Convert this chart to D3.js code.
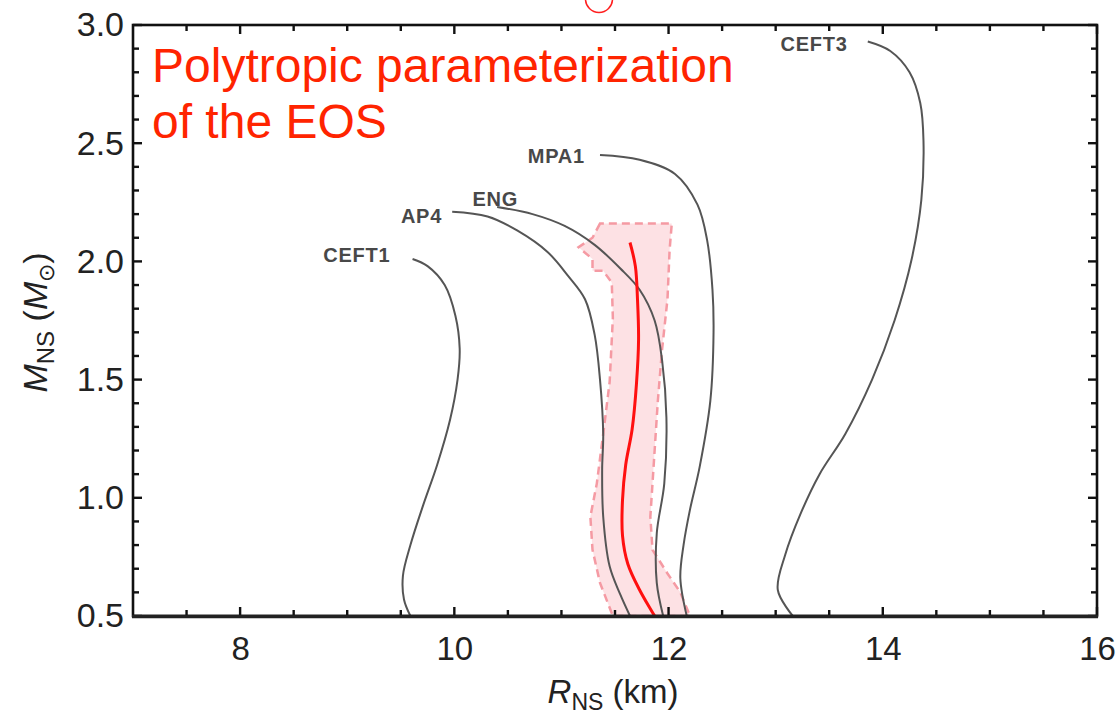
<!DOCTYPE html>
<html>
<head>
<meta charset="utf-8">
<script src="https://cdn.jsdelivr.net/npm/d3@7"></script>
<style>
  html, body { margin: 0; padding: 0; background: #fff; }
  svg { display: block; font-family: "Liberation Sans", Arial, sans-serif; }
</style>
</head>
<body>
<div id="viz"></div>
<script>
const width = 1116;
const height = 723;

// axis ranges and tick values
const xDomain = [7, 16];
const yDomain = [0.5, 3.0];
const xMajor = [8, 10, 12, 14, 16];
const xMinor = [7.5, 8.5, 9, 9.5, 10.5, 11, 11.5, 12.5, 13, 13.5, 14.5, 15, 15.5];
const yMajor = [0.5, 1.0, 1.5, 2.0, 2.5, 3.0];
const yMinor = [0.6, 0.7, 0.8, 0.9, 1.1, 1.2, 1.3, 1.4, 1.6, 1.7, 1.8, 1.9, 2.1, 2.2, 2.3, 2.4, 2.6, 2.7, 2.8, 2.9];

// mass-radius curves, [R km, M Msun]
const ceft1 = [[9.61,2.01],[9.75,1.98],[9.91,1.90],[10.01,1.77],[10.05,1.63],[10.03,1.50],[9.96,1.33],[9.84,1.14],[9.71,0.97],[9.59,0.80],[9.52,0.67],[9.53,0.57],[9.59,0.50]];
const ap4 = [[9.98,2.21],[10.31,2.19],[10.59,2.13],[10.87,2.04],[11.06,1.94],[11.22,1.84],[11.31,1.69],[11.36,1.50],[11.39,1.27],[11.38,1.12],[11.39,0.92],[11.45,0.71],[11.55,0.59],[11.64,0.50]];
const eng = [[10.40,2.23],[10.73,2.20],[11.03,2.15],[11.31,2.07],[11.55,1.97],[11.73,1.88],[11.87,1.75],[11.94,1.58],[11.98,1.34],[11.96,1.06],[11.89,0.85],[11.89,0.64],[11.95,0.50]];
const mpa1 = [[11.36,2.45],[11.73,2.43],[12.06,2.37],[12.27,2.24],[12.36,2.09],[12.41,1.88],[12.42,1.70],[12.39,1.41],[12.29,1.13],[12.20,0.95],[12.14,0.80],[12.11,0.66],[12.17,0.50]];
const ceft3 = [[13.86,2.93],[14.07,2.89],[14.25,2.80],[14.35,2.67],[14.38,2.51],[14.36,2.26],[14.27,2.01],[14.11,1.75],[13.90,1.50],[13.65,1.27],[13.41,1.10],[13.23,0.93],[13.09,0.76],[13.02,0.61],[13.16,0.50]];

const eosNames = ["CEFT1", "AP4", "ENG", "MPA1", "CEFT3"];
const eosCurves = [ceft1, ap4, eng, mpa1, ceft3];

// polytropic result: median and band edges
const polyMedian = [[11.64,2.08],[11.69,1.98],[11.71,1.84],[11.72,1.67],[11.70,1.48],[11.66,1.29],[11.60,1.14],[11.57,0.99],[11.57,0.84],[11.62,0.72],[11.73,0.61],[11.87,0.50]];
const bandLeft = [[11.36,2.16],[11.29,2.10],[11.16,2.06],[11.29,2.01],[11.29,1.96],[11.39,1.96],[11.47,1.91],[11.48,1.76],[11.45,1.49],[11.39,1.27],[11.33,1.06],[11.27,0.92],[11.29,0.78],[11.36,0.64],[11.48,0.50]];
const bandRight = [[12.03,2.16],[12.01,2.05],[11.99,1.84],[11.94,1.63],[11.90,1.41],[11.86,1.13],[11.83,0.92],[11.85,0.78],[11.99,0.68],[12.11,0.60],[12.20,0.50]];

// label nudges (px) relative to each curve's first point
const labelOffsets = {CEFT1: [-22, 3], AP4: [-10, 11], ENG: [21, -1], MPA1: [-15, 8], CEFT3: [-20, 9]};

const margin = {left: 133, right: width - 1097, top: 25, bottom: height - 616};

const x = d3.scaleLinear().domain(xDomain).range([margin.left, width - margin.right]);
const y = d3.scaleLinear().domain(yDomain).range([height - margin.bottom, margin.top]);

const svg = d3.select("#viz").append("svg")
  .attr("width", width)
  .attr("height", height)
  .attr("viewBox", [0, 0, width, height]);

svg.append("clipPath").attr("id", "plot-clip")
  .append("rect")
  .attr("x", x(xDomain[0])).attr("y", y(yDomain[1]))
  .attr("width", x(xDomain[1]) - x(xDomain[0]))
  .attr("height", y(yDomain[0]) - y(yDomain[1]));

const plot = svg.append("g").attr("clip-path", "url(#plot-clip)");

const line = d3.line()
  .x(d => x(d[0]))
  .y(d => y(d[1]))
  .curve(d3.curveCatmullRom.alpha(0.5));

const closedLine = d3.line()
  .x(d => x(d[0]))
  .y(d => y(d[1]))
  .curve(d3.curveLinearClosed);

// shaded band
const bandPoly = bandLeft.concat(bandRight.slice().reverse());
plot.append("path")
  .attr("d", closedLine(bandPoly))
  .attr("fill", "#fde1e4")
  .attr("stroke", "#f59aa3")
  .attr("stroke-width", 2.5)
  .attr("stroke-dasharray", "8,5");

// EOS curves
plot.selectAll(".eos")
  .data(eosCurves)
  .join("path")
  .attr("class", "eos")
  .attr("d", d => line(d))
  .attr("fill", "none")
  .attr("stroke", "#555")
  .attr("stroke-width", 2);

plot.append("path")
  .attr("d", line(polyMedian))
  .attr("fill", "none")
  .attr("stroke", "#ff1010")
  .attr("stroke-width", 3);

// curve labels
svg.selectAll(".eos-label")
  .data(eosNames)
  .join("text")
  .attr("class", "eos-label")
  .attr("x", (d, i) => x(eosCurves[i][0][0]) + labelOffsets[d][0])
  .attr("y", (d, i) => y(eosCurves[i][0][1]) + labelOffsets[d][1])
  .attr("text-anchor", "end")
  .attr("font-size", 20)
  .attr("letter-spacing", 0.8)
  .attr("font-weight", "bold")
  .attr("fill", "#484848")
  .text(d => d);

const yb = height - margin.bottom;
const xr = width - margin.right;

// tick labels from d3 axes (tick marks drawn separately below)
const fmt = d3.format(".1f");
const gx = svg.append("g").attr("transform", `translate(0,${yb})`)
  .call(d3.axisBottom(x).tickValues(xMajor).tickSize(0).tickPadding(21).tickFormat(d3.format("d")));
const gy = svg.append("g").attr("transform", `translate(${margin.left},0)`)
  .call(d3.axisLeft(y).tickValues(yMajor).tickSize(0).tickPadding(9).tickFormat(fmt));
[gx, gy].forEach(g => {
  g.select(".domain").remove();
  g.selectAll(".tick text")
    .attr("fill", "#222")
    .attr("font-size", 34)
    .attr("font-family", "'Liberation Sans', Arial, sans-serif");
});
gx.selectAll(".tick text").attr("font-size", 33);

// inward tick marks on all four sides
const ticks = svg.append("g").attr("stroke", "#111").attr("stroke-width", 2.4);
const xTicks = xMajor.map(v => ({v, len: 9})).concat(xMinor.map(v => ({v, len: 6})));
const yTicks = yMajor.map(v => ({v, len: 9})).concat(yMinor.map(v => ({v, len: 6})));
ticks.selectAll(".xb").data(xTicks).join("line").attr("class", "xb")
  .attr("x1", d => x(d.v)).attr("x2", d => x(d.v))
  .attr("y1", yb).attr("y2", d => yb - d.len);
ticks.selectAll(".xt").data(xTicks).join("line").attr("class", "xt")
  .attr("x1", d => x(d.v)).attr("x2", d => x(d.v))
  .attr("y1", margin.top).attr("y2", d => margin.top + d.len);
ticks.selectAll(".yl").data(yTicks).join("line").attr("class", "yl")
  .attr("y1", d => y(d.v)).attr("y2", d => y(d.v))
  .attr("x1", margin.left).attr("x2", d => margin.left + d.len);
ticks.selectAll(".yr").data(yTicks).join("line").attr("class", "yr")
  .attr("y1", d => y(d.v)).attr("y2", d => y(d.v))
  .attr("x1", xr).attr("x2", d => xr - d.len);

// frame
svg.append("rect")
  .attr("x", margin.left).attr("y", margin.top)
  .attr("width", xr - margin.left).attr("height", yb - margin.top)
  .attr("fill", "none").attr("stroke", "#111").attr("stroke-width", 2.6);
svg.append("line")
  .attr("x1", margin.left - 1).attr("x2", xr + 1)
  .attr("y1", yb + 0.5).attr("y2", yb + 0.5)
  .attr("stroke", "#222").attr("stroke-width", 3.4);

// axis titles
const xt = svg.append("text")
  .attr("x", (margin.left + xr) / 2 - 2)
  .attr("y", 703)
  .attr("text-anchor", "middle")
  .attr("font-size", 33)
  .attr("fill", "#222");
xt.append("tspan").attr("font-style", "italic").text("R");
xt.append("tspan").attr("font-size", 23).attr("dy", 7).text("NS");
xt.append("tspan").attr("dy", -7).text(" (km)");

const yt = svg.append("text")
  .attr("transform", `translate(47,${(margin.top + yb) / 2 + 2}) rotate(-90)`)
  .attr("text-anchor", "middle")
  .attr("font-size", 34)
  .attr("fill", "#222");
yt.append("tspan").attr("font-style", "italic").text("M");
yt.append("tspan").attr("font-size", 24).attr("dy", 7).text("NS");
yt.append("tspan").attr("dy", -7).text(" (");
yt.append("tspan").attr("font-style", "italic").text("M");
yt.append("tspan").attr("font-size", 22).attr("dy", 7).text("⊙");
yt.append("tspan").attr("dy", -7).text(")");

// red annotation
const title = svg.append("text")
  .attr("font-size", 48)
  .attr("fill", "#ff2400");
title.append("tspan").attr("x", 152).attr("y", 82).text("Polytropic parameterization");
title.append("tspan").attr("x", 152).attr("y", 138).text("of the EOS");

// small red circle at the top edge
svg.append("circle")
  .attr("cx", 599).attr("cy", -1).attr("r", 13.5)
  .attr("fill", "none").attr("stroke", "#ff2020").attr("stroke-width", 1.5);
</script>
</body>
</html>
